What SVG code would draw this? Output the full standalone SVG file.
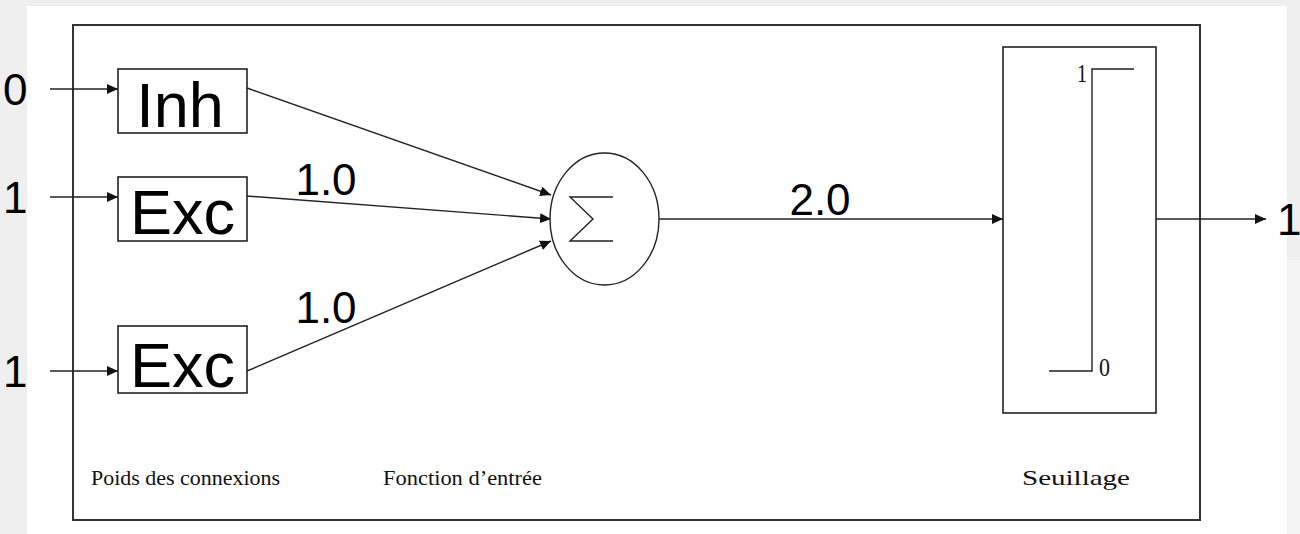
<svg xmlns="http://www.w3.org/2000/svg" width="1300" height="534" viewBox="0 0 1300 534">
<defs>
<style>
.ln{stroke:#222;stroke-width:1.4;fill:none}
.box{stroke:#222;stroke-width:1.6;fill:#fff}
.big{font-family:"Liberation Sans",Arial,sans-serif;font-size:63px;fill:#000}
.num{font-family:"Liberation Sans",Arial,sans-serif;font-size:44px;fill:#000}
.cap{font-family:"Liberation Serif","Times New Roman",serif;font-size:22px;fill:#111}
.sm{font-family:"Liberation Serif","Times New Roman",serif;font-size:26px;fill:#111}
</style>
<marker id="ah" markerWidth="12" markerHeight="10" refX="11" refY="5" orient="auto" markerUnits="userSpaceOnUse">
<path d="M0,0 L11,5 L0,10 Z" fill="#111"/>
</marker>
</defs>
<rect x="0" y="0" width="1300" height="534" fill="#efefef"/>
<rect x="27" y="6" width="1260" height="528" fill="#fff"/>
<rect x="1287" y="260" width="13" height="274" fill="#f4f4f4"/>
<rect id="frame" x="73" y="25" width="1127" height="495" fill="none" stroke="#333" stroke-width="2"/>
<g id="connectors">
<line class="ln" x1="50" y1="89" x2="118" y2="89" marker-end="url(#ah)"/>
<line class="ln" x1="50" y1="197" x2="118" y2="197" marker-end="url(#ah)"/>
<line class="ln" x1="50" y1="371" x2="118" y2="371" marker-end="url(#ah)"/>
<line class="ln" x1="247" y1="88" x2="551" y2="195" marker-end="url(#ah)"/>
<line class="ln" x1="247" y1="196" x2="551" y2="219" marker-end="url(#ah)"/>
<line class="ln" x1="247" y1="371" x2="551" y2="241" marker-end="url(#ah)"/>
<line class="ln" x1="659" y1="219" x2="1003" y2="219" marker-end="url(#ah)"/>
<line class="ln" x1="1156" y1="219" x2="1266" y2="219" marker-end="url(#ah)"/>
</g>
<g id="in0"><text class="num" x="3" y="105">0</text></g>
<g id="in1"><text class="num" x="3" y="213">1</text></g>
<g id="in2"><text class="num" x="3" y="387">1</text></g>
<g id="inh"><rect class="box" x="118" y="69" width="129" height="64"/><text class="big" x="180" y="127" text-anchor="middle">Inh</text></g>
<g id="exc1"><rect class="box" x="118" y="177" width="129" height="64"/><text class="big" x="182.5" y="234" text-anchor="middle">Exc</text></g>
<g id="exc2"><rect class="box" x="118" y="326" width="129" height="67"/><text class="big" x="182.5" y="387" text-anchor="middle">Exc</text></g>
<g id="w1"><text class="num" x="326" y="195" text-anchor="middle">1.0</text></g>
<g id="w2"><text class="num" x="326" y="323" text-anchor="middle">1.0</text></g>
<g id="sum"><ellipse cx="604.5" cy="219" rx="54.5" ry="66" fill="#fff" stroke="#222" stroke-width="1.4"/><path class="ln" d="M613,197 L570,197 L593,219 L570,241 L613,241"/></g>
<g id="w3"><text class="num" x="820" y="215" text-anchor="middle">2.0</text></g>
<g id="seuil"><rect class="box" x="1003" y="47" width="153" height="366"/><path class="ln" d="M1134,69 L1092,69 L1092,371 L1049,371"/><text class="sm" x="1077" y="82" textLength="10" lengthAdjust="spacingAndGlyphs">1</text><text class="sm" x="1099" y="376" textLength="11" lengthAdjust="spacingAndGlyphs">0</text></g>
<g id="out"><text class="num" x="1277" y="235">1</text></g>
<g id="labels">
<text class="cap" x="91" y="485" textLength="189" lengthAdjust="spacingAndGlyphs">Poids des connexions</text>
<text class="cap" x="383" y="485" textLength="159" lengthAdjust="spacingAndGlyphs">Fonction d’entrée</text>
<text class="cap" x="1022" y="485" textLength="108" lengthAdjust="spacingAndGlyphs">Seuillage</text>
</g>
</svg>
